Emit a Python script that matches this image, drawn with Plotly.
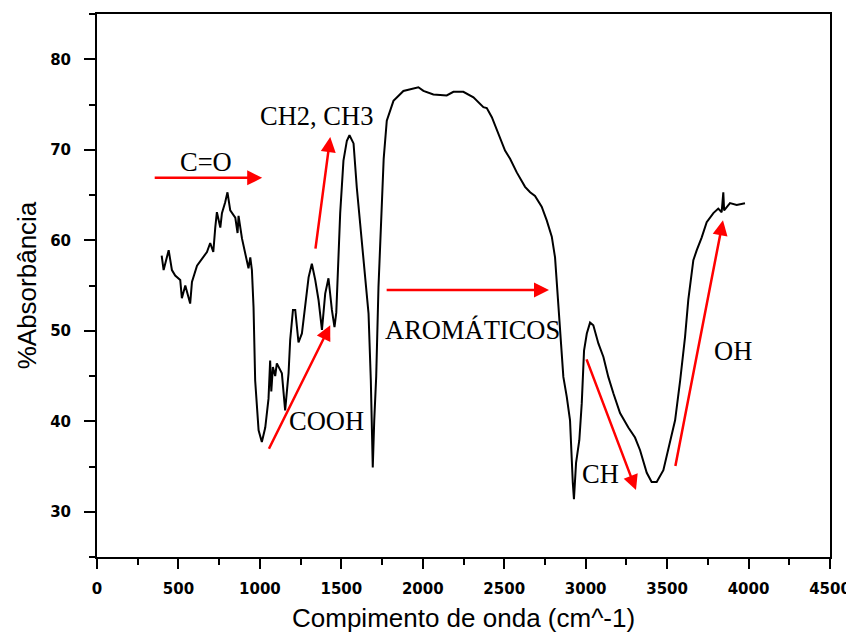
import plotly.graph_objects as go

# Wavenumber (cm^-1) and %Absorbância
wavenumber = [397, 409, 440, 460, 480, 511, 521, 542, 572, 583, 614, 644, 675, 695, 714, 726, 736, 757, 767, 787,
              801, 818, 849, 863, 869, 890, 910, 930, 941, 951, 961, 971, 992, 1012, 1033, 1053, 1063, 1070, 1080, 1094,
              1104, 1135, 1155, 1176, 1186, 1203, 1217, 1237, 1258, 1278, 1299, 1319, 1340, 1360, 1381, 1401, 1421, 1442,
              1458, 1469, 1483, 1493, 1513, 1534, 1550, 1575, 1595, 1626, 1646, 1667, 1681, 1693, 1702, 1714, 1728, 1745,
              1760, 1779, 1820, 1881, 1973, 2004, 2065, 2147, 2188, 2249, 2311, 2372, 2393, 2424, 2464, 2505, 2536, 2577,
              2628, 2659, 2689, 2730, 2761, 2792, 2812, 2823, 2832, 2843, 2853, 2863, 2884, 2904, 2921, 2928, 2941, 2961,
              2976, 2990, 3007, 3027, 3047, 3078, 3109, 3139, 3170, 3211, 3262, 3303, 3334, 3375, 3405, 3436, 3477, 3518,
              3549, 3580, 3610, 3630, 3661, 3682, 3712, 3743, 3784, 3814, 3835, 3845, 3850, 3886, 3927, 3978]
absorbance = [58.3, 56.7, 58.9, 56.7, 56.1, 55.6, 53.6, 55.0, 53.0, 55.4, 57.2, 58.0, 58.7, 59.7, 58.7, 61.4, 63.1, 61.4, 63.0, 64.2,
              65.3, 63.3, 62.5, 60.8, 62.7, 60.2, 58.6, 56.9, 58.1, 56.7, 52.6, 44.5, 39.0, 37.7, 39.3, 42.5, 46.7, 43.3, 46.0, 45.0,
              46.4, 45.3, 41.2, 45.3, 49.0, 52.3, 52.3, 48.7, 49.7, 52.6, 55.9, 57.4, 55.6, 53.4, 50.1, 54.1, 55.8, 52.3,
              50.4, 52.0, 57.8, 63.0, 68.8, 71.0, 71.6, 70.7, 65.8, 60.0, 55.9, 51.9, 44.5, 34.9, 40.1, 44.9, 54.8, 62.0,
              69.0, 73.2, 75.4, 76.5, 76.9, 76.5, 76.1, 76.0, 76.4, 76.4, 75.8, 74.7, 74.6, 73.6, 71.8, 69.9, 69.0, 67.5,
              65.9, 65.3, 64.9, 63.7, 62.2, 60.4, 58.1, 55.2, 52.3, 50.1, 47.8, 44.9, 42.7, 40.1, 33.2, 31.4, 35.4, 37.9,
              42.0, 47.8, 49.7, 50.9, 50.6, 48.6, 47.1, 44.9, 43.1, 40.9, 39.3, 38.2, 36.8, 34.3, 33.3, 33.3, 34.6, 37.6,
              40.1, 44.5, 49.3, 53.4, 57.8, 58.9, 60.3, 62.0, 63.0, 63.5, 63.1, 65.3, 63.3, 64.1, 63.9, 64.1]

# Band labels: text, text position, arrow tail, arrow head (data units)
band_labels = ["C=O", "CH2, CH3", "COOH", "AROMÁTICOS", "CH", "OH"]
label_x = [671, 1346, 1408, 2304, 3088, 3903]
label_y = [68.6, 73.7, 40.0, 50.1, 34.2, 47.8]
arrow_tail_x = [345, 1340, 1051, 1769, 3002, 3549]
arrow_tail_y = [66.9, 58.9, 36.8, 54.5, 47.0, 34.9]
arrow_head_x = [1014, 1432, 1432, 2775, 3309, 3843]
arrow_head_y = [66.9, 71.4, 50.6, 54.5, 32.4, 62.2]

x_ticks = [0, 500, 1000, 1500, 2000, 2500, 3000, 3500, 4000, 4500]
y_ticks = [30, 40, 50, 60, 70, 80]
x_title = "Compimento de onda (cm^-1)"
y_title = "%Absorbância"

fig = go.Figure()
fig.add_trace(go.Scatter(x=wavenumber, y=absorbance, mode="lines",
                         line=dict(color="black", width=2), showlegend=False))

annotations = []
for tx, ty, hx, hy in zip(arrow_tail_x, arrow_tail_y, arrow_head_x, arrow_head_y):
    annotations.append(dict(x=hx, y=hy, ax=tx, ay=ty, xref="x", yref="y", axref="x", ayref="y",
                            text="", showarrow=True, arrowhead=2, arrowsize=1.2, arrowwidth=2.5,
                            arrowcolor="#ff0000", standoff=0, startstandoff=0))
for t, lx, ly in zip(band_labels, label_x, label_y):
    annotations.append(dict(x=lx, y=ly, xref="x", yref="y", text=t, showarrow=False,
                            font=dict(family="Liberation Serif", size=26.5, color="black")))
# x-axis title placed as paper annotation for precise vertical position
annotations.append(dict(x=0.5, y=-0.112, xref="paper", yref="paper", text=x_title, showarrow=False,
                        xanchor="center", yanchor="middle",
                        font=dict(family="Liberation Sans", size=26, color="black")))

fig.update_layout(
    width=846, height=627,
    margin=dict(l=89, r=24, t=6, b=78),
    paper_bgcolor="white", plot_bgcolor="white",
    annotations=annotations,
    font=dict(family="Liberation Sans", color="black"),
)
fig.update_xaxes(range=[0, 4500], tickvals=x_ticks, ticks="outside", ticklen=10, tickwidth=2,
                 tickcolor="black", showline=True, linecolor="black", linewidth=2, mirror=True,
                 showgrid=False, zeroline=False, automargin=False,
                 minor=dict(dtick=250, ticks="outside", ticklen=6, tickwidth=2, tickcolor="black"),
                 tickfont=dict(family="DejaVu Sans", size=15, color="black", weight="bold"),
                 ticklabelstandoff=7)
fig.update_yaxes(range=[25, 85], tickvals=y_ticks, ticks="outside", ticklen=11, tickwidth=2,
                 tickcolor="black", showline=True, linecolor="black", linewidth=2, mirror=True,
                 showgrid=False, zeroline=False, automargin=False,
                 minor=dict(dtick=5, ticks="outside", ticklen=6, tickwidth=2, tickcolor="black"),
                 tickfont=dict(family="DejaVu Sans", size=15, color="black", weight="bold"), ticklabelstandoff=10,
                 title=dict(text=y_title, font=dict(family="Liberation Sans", size=26), standoff=6))

fig.write_html("out.html")
